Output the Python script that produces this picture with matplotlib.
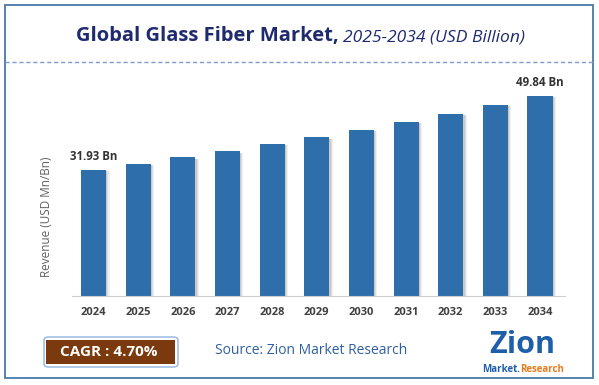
import matplotlib
matplotlib.use("Agg")
import matplotlib.pyplot as plt
from matplotlib.patches import Rectangle, FancyBboxPatch
from matplotlib.lines import Line2D

W, H = 599, 385

years = ["2024", "2025", "2026", "2027", "2028", "2029",
         "2030", "2031", "2032", "2033", "2034"]
revenue = [31.93, 33.37, 35.00, 36.45, 38.20, 39.84,
           41.60, 43.54, 45.47, 47.65, 49.84]
labels = {0: "31.93 Bn", 10: "49.84 Bn"}

BAR = "#2e6eab"
NAVY = "#1f2b6e"
FRAME = "#4a78a8"
TXT = "#404040"

plt.rcParams["font.family"] = ["Open Sans", "DejaVu Sans"]


def fx(px):
    return px / W


def fy(py):
    return 1 - py / H


fig = plt.figure(figsize=(W / 100, H / 100), dpi=100)

# outer frame
fig.add_artist(Rectangle((fx(5), fy(378)), fx(588), 373 / H, fill=False,
                         edgecolor=FRAME, linewidth=1.3,
                         transform=fig.transFigure))
# dashed separator under the title
fig.add_artist(Line2D([fx(5), fx(593)], [fy(62), fy(62)], color="#7f9bd0",
                      linewidth=1.0, linestyle=(0, (3, 2)),
                      transform=fig.transFigure))

# title: bold part + italic part
fig.text(fx(339), fy(36), "Global Glass Fiber Market,", ha="right",
         va="center", fontsize=14.5, fontweight="bold", color=NAVY)
fig.text(fx(343), fy(37), "2025-2034 (USD Billion)", ha="left",
         va="center", fontsize=12.6, fontstyle="italic", color=NAVY)

# chart axes
ymin = 1.43
px_per_unit = 4.132
top_px, base_px = 80, 296
ymax = ymin + (base_px - top_px) / px_per_unit
spacing = 44.65
x0 = 93.5
left_px, right_px = 72, 565
ax = fig.add_axes([fx(left_px), fy(base_px), (right_px - left_px) / W,
                   (base_px - top_px) / H])
ax.set_xlim((left_px - x0) / spacing, (right_px - x0) / spacing)
ax.set_ylim(ymin, ymax)

xs = list(range(len(years)))
bw = 0.56
shadow_dx = 3.5 / spacing
for k, a in enumerate([0.10, 0.14, 0.18]):
    ax.bar([x + shadow_dx * (1 - k * 0.3) for x in xs],
           [v - 0.3 for v in revenue], width=bw, color="#707070",
           alpha=a, zorder=1, linewidth=0)
ax.bar(xs, revenue, width=bw, color=BAR, zorder=2, linewidth=0)

for i, txt in labels.items():
    ax.text(xs[i], revenue[i] + 1.6, txt, ha="center", va="bottom",
            fontsize=8.3, fontweight="bold", color="#333333")

ax.set_xticks(xs)
ax.set_xticklabels(years, fontsize=8, fontweight="bold", color=TXT)
ax.tick_params(axis="x", length=0, pad=8)
ax.set_yticks([])
for s in ["top", "right", "left"]:
    ax.spines[s].set_visible(False)
ax.spines["bottom"].set_color("#d0d0d0")
ax.set_facecolor("none")

fig.text(fx(47), fy(217), "Revenue (USD Mn/Bn)", rotation=90, ha="center",
         va="center", fontsize=8.5, color="#606060")

# CAGR box
fig.add_artist(FancyBboxPatch((fx(44), fy(367)), 134 / W, 30 / H,
                              boxstyle="round,pad=0,rounding_size=0.008",
                              facecolor="white", edgecolor="#8fb3e0",
                              linewidth=1.0, transform=fig.transFigure))
fig.add_artist(Rectangle((fx(46), fy(364)), 129 / W, 24 / H,
                         facecolor="#7b3a0e", edgecolor="none",
                         transform=fig.transFigure))
fig.text(fx(109), fy(352), "CAGR : 4.70%", ha="center", va="center",
         fontsize=11, fontweight="bold", color="white")

fig.text(fx(311), fy(351), "Source: Zion Market Research", ha="center",
         va="center", fontsize=10, color="#2e5f9e")

# logo (text approximation)
fig.text(fx(522), fy(345), "Zion", ha="center", va="center", fontsize=22,
         fontweight="bold", color="#1f5faa")
fig.text(fx(520), fy(369), "Market.", ha="right", va="center", fontsize=7,
         fontweight="bold", color="#1f5faa")
fig.text(fx(520), fy(369), "Research", ha="left", va="center", fontsize=7,
         fontweight="bold", color="#e87b1e")

fig.savefig("out.png", dpi=100, facecolor="white")
